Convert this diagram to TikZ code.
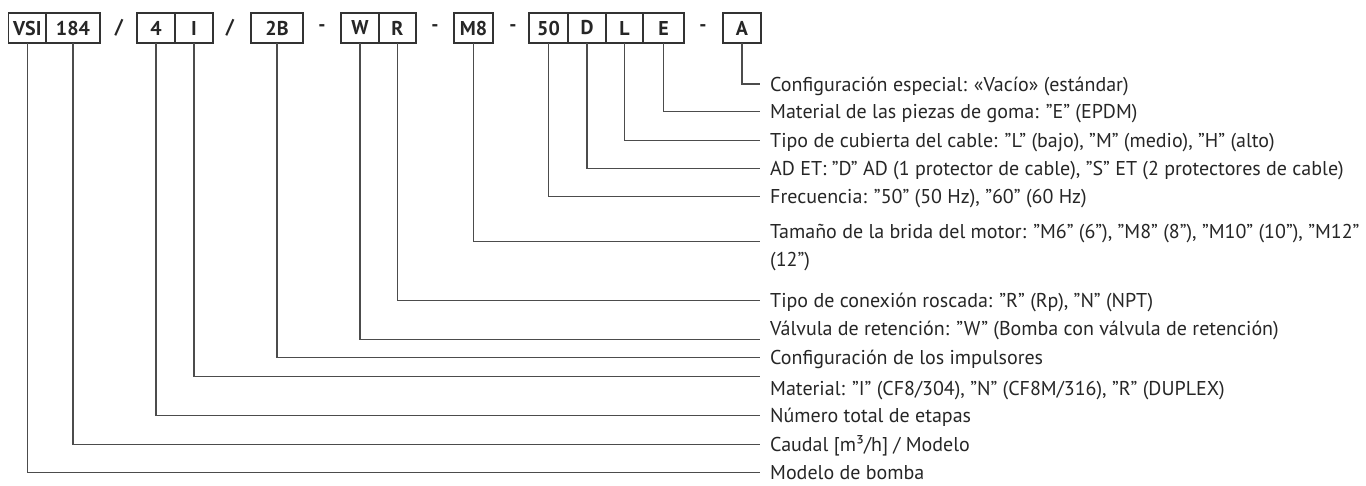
\documentclass[tikz,border=0pt]{standalone}
\usepackage{fontspec}
\setmainfont{PT Sans}
\usetikzlibrary{positioning}

\begin{document}
\begin{tikzpicture}[
        x=1pt, y=-1pt,
        font=\fontsize{20}{27.8}\selectfont,
        every node/.style={text=black!85},
        box/.style={
            draw=black!80,
            line width=1.1pt,
            minimum height=30pt,
            inner sep=0pt, outer sep=0pt,
            font=\fontsize{20}{20}\selectfont\bfseries
        },
        joiner/.style={font=\fontsize{20}{20}\selectfont\bfseries},
        desc/.style={
            anchor=base west,
            inner xsep=10pt, inner ysep=0pt,
            align=left
        },
        leader/.style={
            draw=black!70,
            line width=1.1pt
        }
    ]

    \useasboundingbox (0,0) rectangle (1366,485);

    % code boxes
    \node[box, minimum width=37.3pt] (bVSI) at (27.35,28) {VSI};
    \node[box, minimum width=54pt, right=0pt of bVSI] (b184) {184};
    \node[joiner] (s1) at (119,28) {/};
    \node[box, minimum width=38pt] (b4) at (156,28) {4};
    \node[box, minimum width=38pt, right=0pt of b4] (bI) {I};
    \node[joiner] (s2) at (230,28) {/};
    \node[box, minimum width=52pt] (b2B) at (277,28) {2B};
    \node[joiner] (s3) at (322,28) {-};
    \node[box, minimum width=38pt] (bW) at (360,28) {W};
    \node[box, minimum width=37pt, right=0pt of bW] (bR) {R};
    \node[joiner] (s4) at (435,28) {-};
    \node[box, minimum width=39pt] (bM8) at (473.5,28) {M8};
    \node[joiner] (s5) at (513,28) {-};
    \node[box, minimum width=39pt] (b50) at (548.5,28) {50};
    \node[box, minimum width=38pt, right=0pt of b50] (bD) {D};
    \node[box, minimum width=37pt, right=0pt of bD] (bL) {L};
    \node[box, minimum width=41pt, right=0pt of bL] (bE) {E};
    \node[joiner] (s6) at (703,28) {-};
    \node[box, minimum width=38pt] (bA) at (742,28) {A};

    % descriptions
    \node[desc] (lA) at (760,91) {Configuración especial: «Vacío» (estándar)};
    \node[desc] (lE) at (760,118.4) {Material de las piezas de goma: "E" (EPDM)};
    \node[desc] (lL) at (760,147.7) {Tipo de cubierta del cable: "L" (bajo), "M" (medio), "H" (alto)};
    \node[desc] (lD) at (760,175.1) {AD ET: "D" AD (1 protector de cable), "S" ET (2 protectores de cable)};
    \node[desc] (l50) at (760,203.9) {Frecuencia: "50" (50 Hz), "60" (60 Hz)};
    \node[desc] (lM8) at (760,266.3) {Tamaño de la brida del motor: "M6" (6"), "M8" (8"), "M10" (10"), "M12"\\(12")};
    \node[desc] (lR) at (760,307.1) {Tipo de conexión roscada: "R" (Rp), "N" (NPT)};
    \node[desc] (lW) at (760,335.9) {Válvula de retención: "W" (Bomba con válvula de retención)};
    \node[desc] (l2B) at (760,364.7) {Configuración de los impulsores};
    \node[desc] (lI) at (760,395.9) {Material: "I" (CF8/304), "N" (CF8M/316), "R" (DUPLEX)};
    \node[desc] (l4) at (760,422.3) {Número total de etapas};
    \node[desc] (l184) at (760,451.1) {Caudal [m³/h] / Modelo};
    \node[desc] (lVSI) at (760,479.9) {Modelo de bomba};

    % leaders
    \draw[leader] (bA.south) |- ([yshift=7pt]lA.base west);
    \draw[leader] (bE.south) |- ([yshift=7pt]lE.base west);
    \draw[leader] (bL.south) |- ([yshift=7pt]lL.base west);
    \draw[leader] (bD.south) |- ([yshift=7pt]lD.base west);
    \draw[leader] (b50.south) |- ([yshift=7pt]l50.base west);
    \draw[leader] (bM8.south) |- ([yshift=24.8pt]lM8.base west);
    \draw[leader] (bR.south) |- ([yshift=7pt]lR.base west);
    \draw[leader] (bW.south) |- ([yshift=-4pt]lW.base west);
    \draw[leader] (b2B.south) |- ([yshift=7pt]l2B.base west);
    \draw[leader] (bI.south) |- ([yshift=19pt]lI.base west);
    \draw[leader] (b4.south) |- ([yshift=7pt]l4.base west);
    \draw[leader] (b184.south) |- ([yshift=7pt]l184.base west);
    \draw[leader] (bVSI.south) |- ([yshift=7pt]lVSI.base west);

\end{tikzpicture}
\end{document}
